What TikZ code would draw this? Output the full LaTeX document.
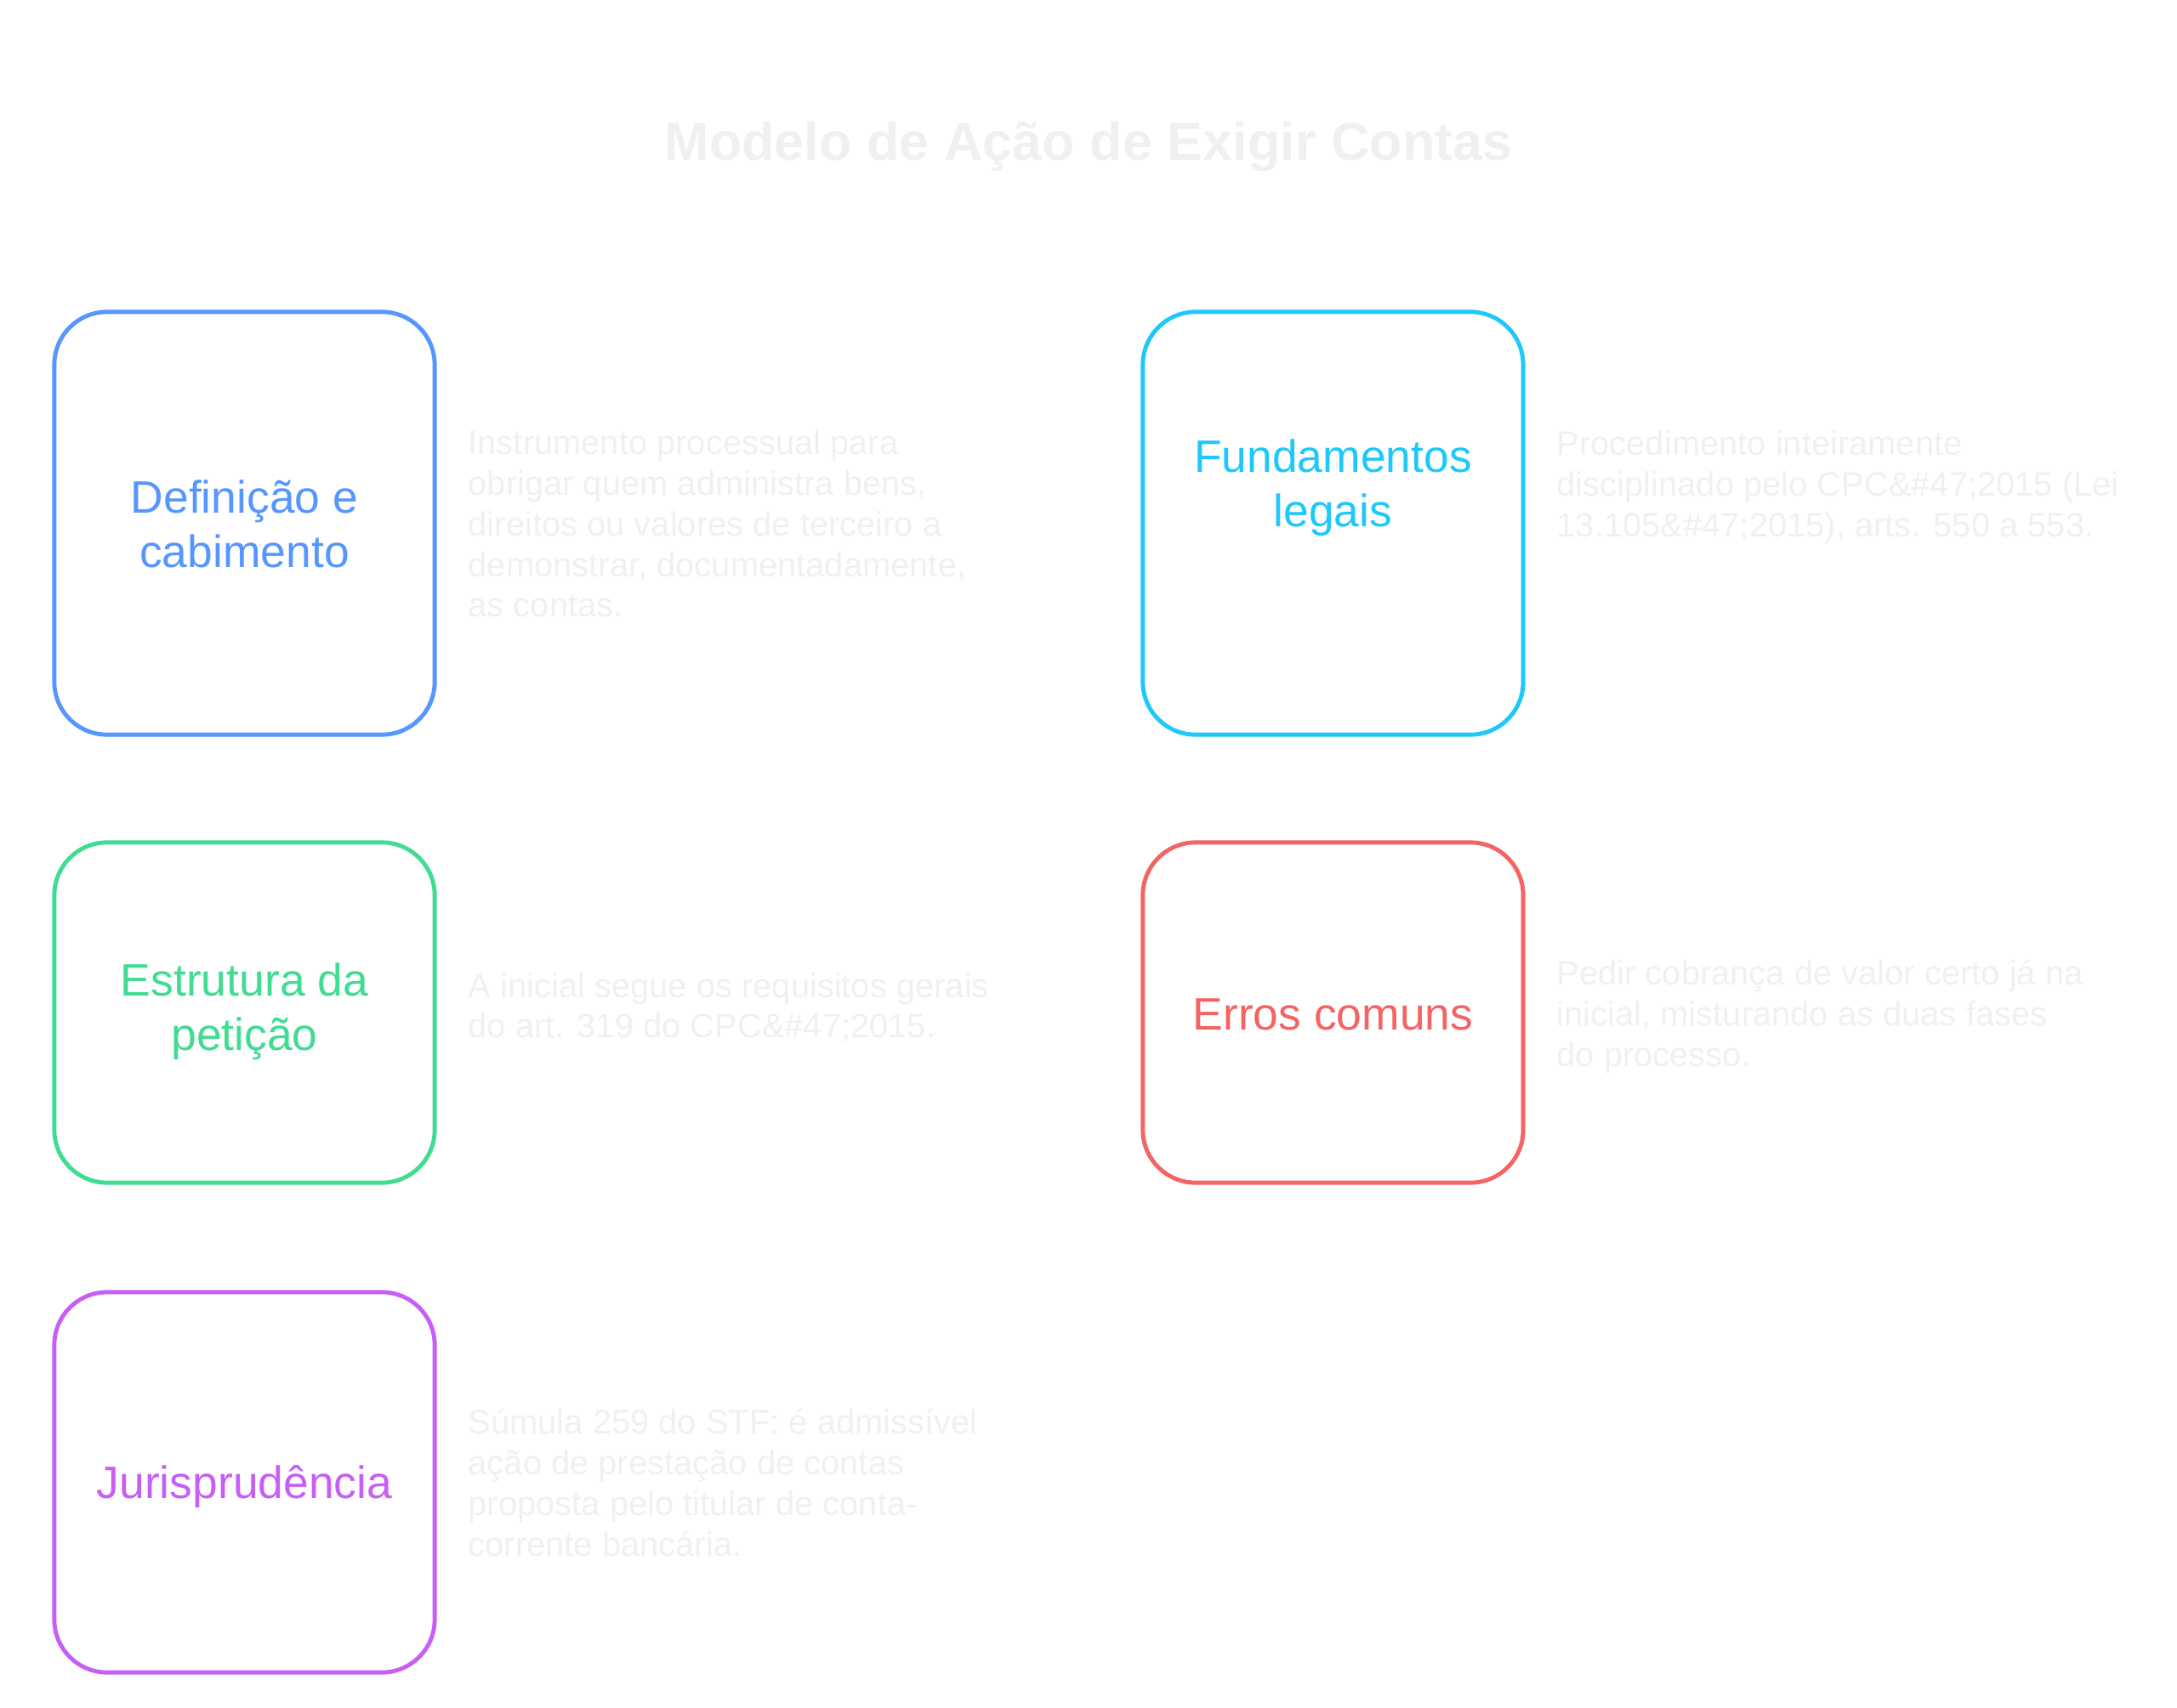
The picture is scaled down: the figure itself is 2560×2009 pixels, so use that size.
\documentclass[tikz,border=0pt]{standalone}
\usepackage{fontspec}
\setmainfont{Liberation Sans}
\definecolor{defblue}{RGB}{85,150,255}
\definecolor{fundcyan}{RGB}{30,200,250}
\definecolor{estgreen}{RGB}{64,220,145}
\definecolor{errred}{RGB}{245,100,100}
\definecolor{jurpurple}{RGB}{200,95,245}
\definecolor{fadegray}{RGB}{240,240,240}
\tikzset{
    card/.style={draw,line width=1.4pt,rounded corners=0.62cm,minimum width=4.47cm,inner sep=0pt},
    cardtext/.style={align=center,font=\fontsize{15.2pt}{18.2pt}\selectfont},
    desc/.style={anchor=west,align=left,text=fadegray,inner sep=0pt,font=\fontsize{11.35pt}{13.6pt}\selectfont}
}
\begin{document}
\begin{tikzpicture}[x=0.01cm,y=-0.01cm]
        \useasboundingbox (0,0) rectangle (2560,2009);
        \node (title) at (1280,172) [text=fadegray,font=\bfseries\fontsize{17.9pt}{22pt}\selectfont]{Modelo de Ação de Exigir Contas};
        % left column
        \node (defbox) at (287.5,615.5) [card,defblue,minimum height=4.97cm]{};
        \node (deflabel) at (287.5,616) [cardtext,defblue]{Definição e\\ cabimento};
        \node (defdesc) at (550,616) [desc]{Instrumento processual para\\obrigar quem administra bens,\\direitos ou valores de terceiro a\\demonstrar, documentadamente,\\as contas.};
        \node (estbox) at (287.5,1191) [card,estgreen,minimum height=4cm]{};
        \node (estlabel) at (287.5,1190) [cardtext,estgreen]{Estrutura da\\ petição};
        \node (estdesc) at (550,1185) [desc]{A inicial segue os requisitos gerais\\do art. 319 do CPC\&\#47;2015.};
        \node (jurbox) at (287.5,1743.5) [card,jurpurple,minimum height=4.47cm]{};
        \node (jurlabel) at (287.5,1749) [cardtext,jurpurple]{Jurisprudência};
        \node (jurdesc) at (550,1744) [desc]{Súmula 259 do STF: é admissível\\ação de prestação de contas\\proposta pelo titular de conta-\\corrente bancária.};
        % right column
        \node (fundbox) at (1567.5,615.5) [card,fundcyan,minimum height=4.97cm]{};
        \node (fundlabel) at (1567.5,574) [cardtext,fundcyan]{Fundamentos\\ legais};
        \node (funddesc) at (1830,573) [desc]{Procedimento inteiramente\\disciplinado pelo CPC\&\#47;2015 (Lei\\13.105\&\#47;2015), arts. 550 a 553.};
        \node (errbox) at (1567.5,1191) [card,errred,minimum height=4cm]{};
        \node (errlabel) at (1567.5,1193) [cardtext,errred]{Erros comuns};
        \node (errdesc) at (1830,1196) [desc]{Pedir cobrança de valor certo já na\\inicial, misturando as duas fases\\do processo.};
    \end{tikzpicture}
\end{document}
